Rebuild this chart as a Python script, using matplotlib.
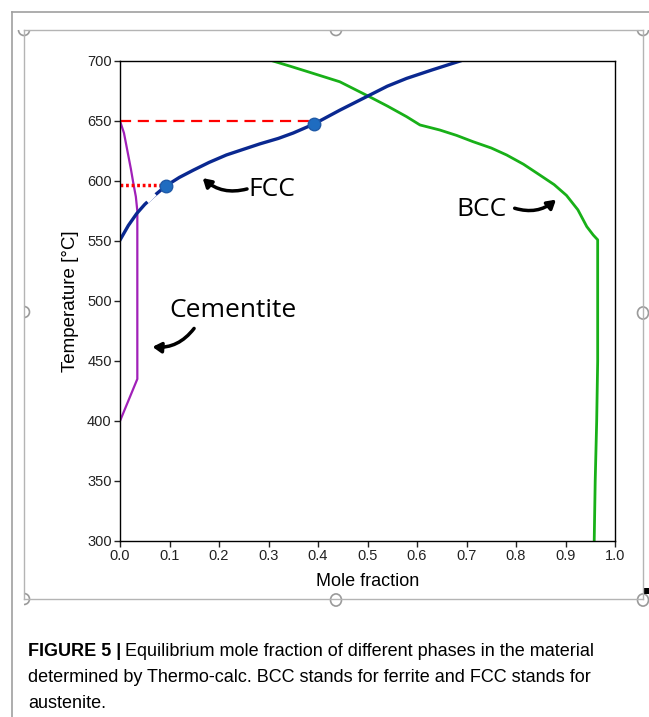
import numpy as np
import matplotlib.pyplot as plt
from matplotlib.patches import Circle, Rectangle, Arc
from matplotlib.lines import Line2D

# Datos
fcc_x = [0.0, 0.017, 0.034, 0.05, 0.067, 0.093, 0.12, 0.148, 0.18, 0.215, 0.25, 0.283, 0.32, 0.35,
         0.392, 0.444, 0.505, 0.54, 0.579, 0.63, 0.687]
fcc_t = [550.8, 563, 573, 580.5, 587, 596, 603, 609, 615.5, 621.7, 626.5, 631, 635.5, 640,
         647.5, 659, 671.7, 679, 685.5, 692.5, 700]

bcc_x = [0.309, 0.345, 0.38, 0.444, 0.505, 0.54, 0.579, 0.606, 0.646, 0.68, 0.713, 0.75, 0.781,
         0.815, 0.848, 0.877, 0.902, 0.925, 0.943, 0.956, 0.965, 0.965, 0.963, 0.96, 0.958]
bcc_t = [700, 695.5, 691, 682.7, 670, 662.5, 653.6, 646.7, 642.5, 638, 632.8, 627.5, 621.7,
         614, 605, 597, 588, 576, 562, 555, 551, 450, 400, 350, 300]

cem_x = [0.0, 0.008, 0.015, 0.022, 0.027, 0.032, 0.035, 0.035, 0.018, 0.0]
cem_t = [650, 640, 625, 610, 598, 587, 575, 435, 418, 400]

puntos_x = [0.093, 0.392]
puntos_t = [596, 647.5]

xticks = [0.0, 0.1, 0.2, 0.3, 0.4, 0.5, 0.6, 0.7, 0.8, 0.9, 1.0]
yticks = [300, 350, 400, 450, 500, 550, 600, 650, 700]

fig = plt.figure(figsize=(6.49, 7.17), dpi=100)
W, H = 649, 717

def fx(px):
    return px / W

def fy(py):
    return 1 - py / H

ax = fig.add_axes([fx(120), fy(541), fx(615) - fx(120), fy(61) - fy(541)])

ax.plot(cem_x, cem_t, color='#a020b8', lw=1.6)
ax.plot(bcc_x, bcc_t, color='#18b018', lw=2.0)
ax.plot(fcc_x, fcc_t, color='#0a2890', lw=2.4)
ax.plot([0, 0.392], [650, 650], color='#ff0000', lw=1.6, ls=(0, (5, 3)))     # linea 650
ax.plot([0, 0.093], [597, 597], color='#ff0000', lw=2.5, ls=(0, (0.8, 0.8)))  # linea 597
ax.plot(puntos_x, puntos_t, ls='none', marker='o', ms=9, mfc='#1f6cc0', mec='#1f5aa8')
# pequena interrupcion blanca como en la imagen
ax.plot([0.058, 0.068], [584, 588], color='white', lw=3)

ax.set_xlim(0, 1)
ax.set_ylim(300, 700)
ax.set_xticks(xticks)
ax.set_xticklabels(['%.1f' % v for v in xticks])
ax.set_yticks(yticks)
for s in ax.spines.values():
    s.set_linewidth(1.0)
ax.tick_params(direction='out', length=4, width=1, labelsize=10.5, colors='#222222', pad=2)
for lab in ax.get_xticklabels() + ax.get_yticklabels():
    lab.set_family(['Liberation Sans'])
ax.set_xlabel('Mole fraction', fontsize=13, family=['Liberation Sans Narrow', 'Liberation Sans'],
              labelpad=7)
ax.set_ylabel('Temperature [°C]', fontsize=13.5, family=['Liberation Sans'], labelpad=6)

# Etiquetas con flechas
af = ['Open Sans', 'DejaVu Sans']
ax.text(0.26, 593, 'FCC', fontsize=19, family=af, va='center', ha='left')
ax.annotate('', xy=(0.163, 604), xytext=(0.262, 594),
            arrowprops=dict(arrowstyle='-|>,head_length=0.5,head_width=0.3', color='black', lw=2.5,
                            connectionstyle='arc3,rad=-0.3'))
ax.text(0.68, 576, 'BCC', fontsize=19, family=af, va='center', ha='left')
ax.annotate('', xy=(0.885, 586), xytext=(0.792, 578),
            arrowprops=dict(arrowstyle='-|>,head_length=0.5,head_width=0.3', color='black', lw=2.5,
                            connectionstyle='arc3,rad=0.3'))
ax.text(0.1, 492, 'Cementite', fontsize=19, family=af, va='center', ha='left')
ax.annotate('', xy=(0.06, 462), xytext=(0.153, 479),
            arrowprops=dict(arrowstyle='-|>,head_length=0.5,head_width=0.3', color='black', lw=2.5,
                            connectionstyle='arc3,rad=-0.3'))

# Marco de la pagina y de seleccion
g = '#a0a0a0'
fig.add_artist(Line2D([fx(12), 1], [fy(12), fy(12)], color=g, lw=1.2))
fig.add_artist(Line2D([fx(12), fx(12)], [fy(12), 0], color=g, lw=1.2))
g2 = '#b4b4b4'
fig.add_artist(Line2D([fx(24), fx(643)], [fy(30), fy(30)], color=g2, lw=1))
fig.add_artist(Line2D([fx(24), fx(643)], [fy(599), fy(599)], color=g2, lw=1))
fig.add_artist(Line2D([fx(24), fx(24)], [fy(30), fy(599)], color=g2, lw=1))
fig.add_artist(Line2D([fx(643), fx(643)], [fy(30), fy(599)], color=g2, lw=1))
# asas semicirculares
for (cx, cy, a1, a2) in [(336, 30, 180, 360), (643, 30, 180, 360), (24, 30, 180, 360),
                         (24, 312, 270, 450), (24, 599, 270, 450)]:
    fig.add_artist(Arc((fx(cx), fy(cy)), 11 / W, 11 / H, theta1=a1, theta2=a2,
                       transform=fig.transFigure, color='#9a9a9a', lw=1.2))
for (cx, cy) in [(643, 313), (336, 600), (643, 600)]:
    fig.add_artist(Circle((fx(cx), fy(cy)), 5.5 / W, transform=fig.transFigure,
                          facecolor='white', edgecolor='#9a9a9a', lw=1.2))
fig.add_artist(Rectangle((fx(643), fy(594)), 6 / W, 6 / H, transform=fig.transFigure,
                         facecolor='black', edgecolor='none'))

# Pie de figura
cf = ['Liberation Sans Narrow', 'Liberation Sans']
t1 = fig.text(fx(28), fy(651), 'FIGURE 5 |', fontsize=13, weight='bold', family=cf, va='center')
fig.canvas.draw()
bb = t1.get_window_extent()
fig.text(bb.x1 / W + 4 / W, fy(651), 'Equilibrium mole fraction of different phases in the material',
         fontsize=13, family=cf, va='center')
fig.text(fx(28), fy(677), 'determined by Thermo-calc. BCC stands for ferrite and FCC stands for',
         fontsize=13, family=cf, va='center')
fig.text(fx(28), fy(703), 'austenite.', fontsize=13, family=cf, va='center')

fig.savefig('out.png', dpi=100)
